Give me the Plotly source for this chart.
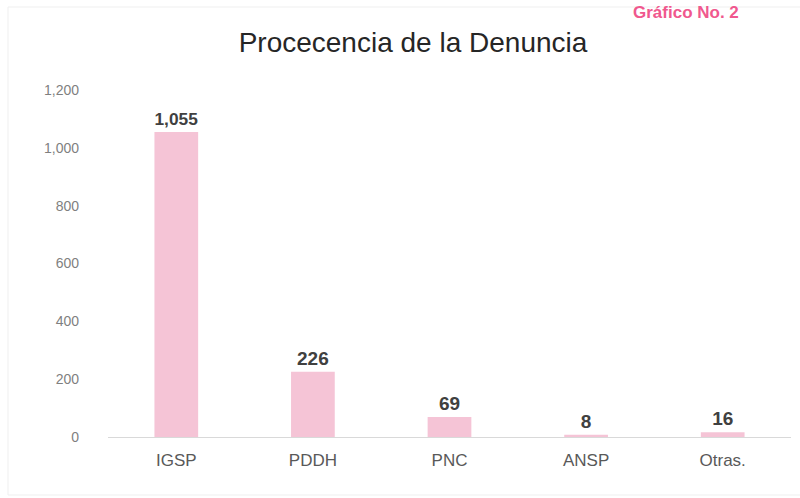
import plotly.graph_objects as go

categories = ["IGSP", "PDDH", "PNC", "ANSP", "Otras."]
values = [1055, 226, 69, 8, 16]
tick_vals = [0, 200, 400, 600, 800, 1000, 1200]
tick_text = ["0", "200", "400", "600", "800", "1,000", "1,200"]
title_text = "Procecencia de la Denuncia"
corner_text = "Gráfico No. 2"

W, H = 800, 498
ml, mr, mt, mb = 108, 9, 90, 61
pw = W - ml - mr
ph = H - mt - mb

fig = go.Figure(go.Bar(
    x=categories, y=values,
    marker=dict(color="#F5C4D6", line=dict(width=0)),
    text=[f"{v:,}" for v in values],
    textposition="outside",
    cliponaxis=False,
    textfont=dict(family="Liberation Sans, Arial", size=19, color="#404040"),
    texttemplate="<b>%{text}</b>",
))

fig.update_layout(
    width=W, height=H,
    margin=dict(l=ml, r=mr, t=mt, b=mb),
    paper_bgcolor="white", plot_bgcolor="white",
    bargap=0.68,
    showlegend=False,
    title=dict(text=title_text, x=413 / W, xanchor="center", y=1 - 42 / H, yanchor="middle",
               xref="container", yref="container",
               font=dict(family="Liberation Sans, Arial", size=28, color="#262626")),
    xaxis=dict(showgrid=False, showline=True, linecolor="#D9D9D9", linewidth=1,
               ticks="", tickfont=dict(family="Liberation Sans, Arial", size=17, color="#595959"),
               ticklabelstandoff=8),
    yaxis=dict(range=[0, 1200], tickvals=tick_vals, ticktext=tick_text, showgrid=False,
               zeroline=False, showline=False, ticks="",
               tickfont=dict(family="Liberation Sans, Arial", size=14, color="#7F7F7F"),
               ticklabelstandoff=28),
    shapes=[dict(type="rect", xref="paper", yref="paper",
                 x0=(8 - ml) / pw, x1=(W + 5 - ml) / pw,
                 y0=(H - mb - 495) / ph, y1=(H - mb - 7) / ph,
                 line=dict(color="#EFEFEF", width=1), layer="below")],
    annotations=[dict(text="<b>" + corner_text + "</b>", xref="paper", yref="paper",
                      x=(686 - ml) / pw, y=(H - mb - 1) / ph,
                      xanchor="center", yanchor="top", showarrow=False,
                      font=dict(family="Liberation Sans, Arial", size=17, color="#F0588E"))],
)

fig.write_html("out.html", config={"displayModeBar": False},
               post_script="document.body.style.margin='0';document.body.style.overflow='hidden';")
